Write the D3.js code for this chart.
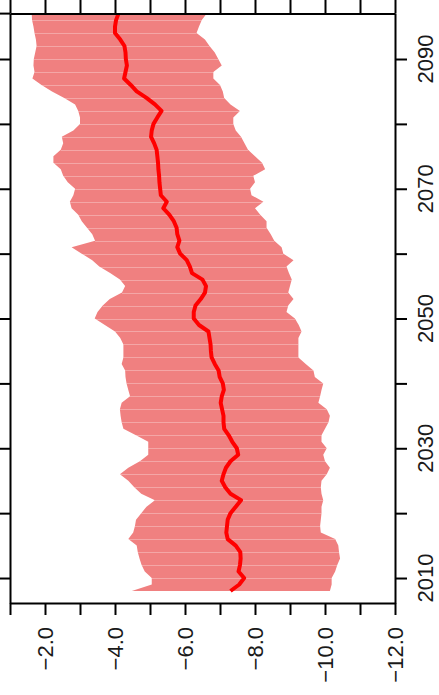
<!DOCTYPE html>
<html>
<head>
<meta charset="utf-8">
<script src="https://cdn.jsdelivr.net/npm/d3@7"></script>
<style>
    body { margin: 0; background: #fff; }
    svg { display: block; font-family: "Liberation Sans", Arial, sans-serif; }
    .axis path, .axis line { stroke: #000; stroke-width: 2; }
    .label { font-size: 22px; fill: #1a1a1a; }
</style>
</head>
<body>
<svg id="chart" width="439" height="695"></svg>
<script>
/**
 * Data (one value per year).
 */
const years = [
    2008, 2009, 2010, 2011, 2012, 2013, 2014, 2015, 2016, 2017,
    2018, 2019, 2020, 2021, 2022, 2023, 2024, 2025, 2026, 2027,
    2028, 2029, 2030, 2031, 2032, 2033, 2034, 2035, 2036, 2037,
    2038, 2039, 2040, 2041, 2042, 2043, 2044, 2045, 2046, 2047,
    2048, 2049, 2050, 2051, 2052, 2053, 2054, 2055, 2056, 2057,
    2058, 2059, 2060, 2061, 2062, 2063, 2064, 2065, 2066, 2067,
    2068, 2069, 2070, 2071, 2072, 2073, 2074, 2075, 2076, 2077,
    2078, 2079, 2080, 2081, 2082, 2083, 2084, 2085, 2086, 2087,
    2088, 2089, 2090, 2091, 2092, 2093, 2094, 2095, 2096, 2097
];

// Upper edge of the band (least negative)
const upper = [
    -4.48, -5.05, -5.05, -4.85, -4.76, -4.70, -4.65, -4.62, -4.38, -4.52,
    -4.57, -4.60, -4.75, -4.90, -5.14, -4.75, -4.55, -4.38, -4.14, -4.38,
    -4.71, -4.95, -4.95, -4.95, -4.60, -4.24, -4.19, -4.16, -4.14, -4.19,
    -4.43, -4.38, -4.33, -4.30, -4.29, -4.19, -4.24, -4.24, -4.24, -4.15,
    -4.00, -3.71, -3.42, -3.50, -3.65, -3.85, -4.20, -4.29, -4.14, -3.86,
    -3.55, -3.35, -3.05, -2.76, -3.43, -3.35, -3.20, -3.05, -2.95, -2.76,
    -2.71, -2.81, -2.86, -2.65, -2.52, -2.45, -2.24, -2.24, -2.45, -2.52,
    -2.48, -2.81, -3.00, -3.00, -2.95, -2.86, -2.55, -2.20, -1.90, -1.64,
    -1.70, -1.67, -1.68, -1.72, -1.76, -1.74, -1.70, -1.67, -1.63, -1.62
];

// Lower edge of the band (most negative)
const lower = [
    -10.14, -10.19, -10.19, -10.29, -10.35, -10.43, -10.40, -10.38, -10.29, -9.88,
    -9.86, -9.88, -9.90, -9.90, -9.95, -9.90, -9.88, -9.90, -10.05, -10.14,
    -10.00, -9.95, -10.05, -9.90, -9.90, -10.00, -10.10, -10.14, -10.05, -9.81,
    -9.86, -9.90, -9.95, -9.71, -9.67, -9.45, -9.24, -9.24, -9.24, -9.24,
    -9.33, -9.25, -9.14, -8.90, -8.95, -9.10, -8.95, -9.00, -9.05, -8.97,
    -8.90, -9.10, -8.81, -8.76, -8.55, -8.45, -8.33, -8.33, -8.15, -8.00,
    -8.24, -7.90, -7.86, -8.00, -7.95, -8.29, -8.20, -8.00, -7.80, -7.70,
    -7.60, -7.45, -7.38, -7.38, -7.57, -7.30, -7.12, -7.08, -7.00, -6.81,
    -6.81, -7.05, -6.95, -6.85, -6.70, -6.57, -6.33, -6.40, -6.48, -6.62
];

// Central line
const mean = [
    -7.30, -7.55, -7.69, -7.53, -7.57, -7.59, -7.58, -7.45, -7.22, -7.18,
    -7.20, -7.22, -7.30, -7.45, -7.60, -7.30, -7.15, -7.05, -7.10, -7.17,
    -7.30, -7.52, -7.48, -7.35, -7.25, -7.12, -7.10, -7.10, -7.06, -7.02,
    -7.05, -7.11, -7.08, -6.99, -6.96, -6.85, -6.76, -6.74, -6.73, -6.70,
    -6.67, -6.40, -6.25, -6.25, -6.30, -6.45, -6.57, -6.60, -6.50, -6.20,
    -6.14, -6.05, -5.86, -5.78, -5.84, -5.78, -5.76, -5.68, -5.55, -5.38,
    -5.48, -5.31, -5.29, -5.27, -5.26, -5.24, -5.23, -5.21, -5.19, -5.12,
    -5.03, -5.05, -5.10, -5.21, -5.33, -5.14, -4.90, -4.62, -4.45, -4.26,
    -4.30, -4.34, -4.31, -4.30, -4.27, -4.15, -4.00, -4.00, -4.03, -4.10
];

const valueTicks = [-1, -2, -3, -4, -5, -6, -7, -8, -9, -10, -11, -12];
const valueLabels = [-2, -4, -6, -8, -10, -12];
const yearTicks = [2010, 2020, 2030, 2040, 2050, 2060, 2070, 2080, 2090];
const yearLabels = [2010, 2030, 2050, 2070, 2090];

/**
 * Visual configs. The plot is drawn turned on its side:
 * years run up the page, values run across it.
 */
const frame = { left: 10, right: 395, top: 13.6, bottom: 603 },
    tickLen = 12,
    bandColor = '#f08080',
    lineColor = '#ff0000';

const svg = d3.select('#chart');

const xScale = d3.scaleLinear().domain([-1, -12]).range([frame.left, frame.right]),
    yScale = d3.scaleLinear().domain([2006.15, 2097]).range([frame.bottom, frame.top]);

const rows = years.map((y, i) => ({ year: y, upper: upper[i], lower: lower[i], mean: mean[i] }));

svg.append('clipPath').attr('id', 'plot-clip')
    .append('rect')
    .attr('x', frame.left).attr('y', frame.top)
    .attr('width', frame.right - frame.left).attr('height', frame.bottom - frame.top);

const plot = svg.append('g').attr('clip-path', 'url(#plot-clip)');

// Band
const area = d3.area()
    .y(d => yScale(d.year))
    .x0(d => xScale(d.upper))
    .x1(d => xScale(d.lower));

plot.append('path')
    .datum(rows)
    .attr('d', area)
    .attr('fill', bandColor);

// Faint seams across the band
plot.append('g').selectAll('line')
    .data(rows.filter(d => d.year % 2 === 0 && d.year > 2008))
    .join('line')
    .attr('x1', d => xScale(d.upper))
    .attr('x2', d => xScale(d.lower))
    .attr('y1', d => Math.round(yScale(d.year)) + 0.5)
    .attr('y2', d => Math.round(yScale(d.year)) + 0.5)
    .attr('stroke', '#fff')
    .attr('stroke-opacity', 0.3)
    .attr('stroke-width', 1);

// Central line
const line = d3.line()
    .y(d => yScale(d.year))
    .x(d => xScale(d.mean));

plot.append('path')
    .datum(rows)
    .attr('d', line)
    .attr('fill', 'none')
    .attr('stroke', lineColor)
    .attr('stroke-width', 4)
    .attr('stroke-linejoin', 'round');

/**
 * Axes (ticks only, labels drawn separately so they can be turned).
 */
svg.append('g').attr('class', 'axis')
    .attr('transform', 'translate(0,' + frame.bottom + ')')
    .call(d3.axisBottom(xScale).tickValues(valueTicks).tickSize(tickLen).tickSizeOuter(0).tickFormat(''));

svg.append('g').attr('class', 'axis')
    .attr('transform', 'translate(0,' + frame.top + ')')
    .call(d3.axisTop(xScale).tickValues(valueTicks).tickSize(frame.top).tickSizeOuter(0).tickFormat(''));

svg.append('g').attr('class', 'axis')
    .attr('transform', 'translate(' + frame.right + ',0)')
    .call(d3.axisRight(yScale).tickValues(yearTicks).tickSize(tickLen).tickSizeOuter(0).tickFormat(''));

svg.append('g').attr('class', 'axis')
    .attr('transform', 'translate(' + frame.left + ',0)')
    .call(d3.axisLeft(yScale).tickValues(yearTicks).tickSize(frame.left).tickSizeOuter(0).tickFormat(''));

// Top rule runs on to the page edge
svg.append('line')
    .attr('x1', 0).attr('x2', frame.left)
    .attr('y1', frame.top).attr('y2', frame.top)
    .attr('stroke', '#000').attr('stroke-width', 2);

svg.selectAll('.axis .domain').attr('fill', 'none');

// Value labels, reading upward, right-aligned against the axis
const fmt = d3.format('.1f');
svg.append('g').selectAll('text')
    .data(valueLabels)
    .join('text')
    .attr('class', 'label')
    .attr('transform', d => 'translate(' + (xScale(d) + 8) + ',' + (frame.bottom + 24) + ') rotate(-90)')
    .attr('text-anchor', 'end')
    .text(d => fmt(d));

// Year labels
svg.append('g').selectAll('text')
    .data(yearLabels)
    .join('text')
    .attr('class', 'label')
    .attr('transform', d => 'translate(' + (frame.right + 38) + ',' + yScale(d) + ') rotate(-90)')
    .attr('text-anchor', 'middle')
    .text(d => d);
</script>
</body>
</html>
